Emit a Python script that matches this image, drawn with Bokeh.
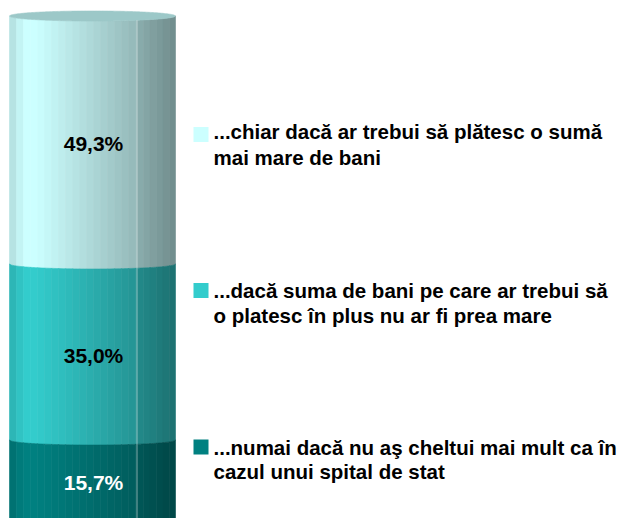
import numpy as np
from bokeh.plotting import figure
from bokeh.models import Range1d
from bokeh.core.properties import value
from bokeh.embed import file_html
from bokeh.resources import INLINE

# ---------------- data ----------------
categories = [
    "...chiar dacă ar trebui să plătesc o sumă mai mare de bani",
    "...dacă suma de bani pe care ar trebui să o platesc în plus nu ar fi prea mare",
    "...numai dacă nu aş cheltui mai mult ca în cazul unui spital de stat",
]
legend_lines = [
    ["...chiar dacă ar trebui să plătesc o sumă", "mai mare de bani"],
    ["...dacă suma de bani pe care ar trebui să", "o platesc în plus nu ar fi prea mare"],
    ["...numai dacă nu aş cheltui mai mult ca în", "cazul unui spital de stat"],
]
values = [49.3, 35.0, 15.7]
value_labels = ["49,3%", "35,0%", "15,7%"]

# ---------------- style ----------------
base_colors = [(204, 255, 255), (51, 204, 204), (0, 128, 128)]
label_colors = ["black", "black", "white"]
FONT = value("Liberation Sans")

S = 5.03          # px per percent
Y0 = 518.5        # page y of value 0
def py(page_y):   # page pixel -> data y
    return (Y0 - page_y) / S

p = figure(width=624, height=518, output_backend="svg", toolbar_location=None,
           x_range=Range1d(0, 624), y_range=Range1d(py(518), py(0)),
           min_border=0, outline_line_color=None, background_fill_color="white")
p.axis.visible = False
p.grid.visible = False

cx, r, h = 92.0, 83.0, 1.0
xl, xr, xsplit = cx - r, cx + r, 136.5

def d(x):
    t = np.clip((np.asarray(x) - cx) / r, -1, 1)
    return h * np.sqrt(1 - t * t)

def shade(x):
    if x < xsplit:
        return float(np.interp(x, [xl, 19, 22, 36, xsplit], [0.86, 0.95, 1.0, 1.0, 0.72]))
    return float(np.interp(x, [xsplit, xr], [0.68, 0.55]))

def hexc(rgb, f):
    return "#%02x%02x%02x" % tuple(int(max(0, min(255, round(c * f)))) for c in rgb)

edges = list(np.arange(xl, xsplit, 7.0)) + [xsplit] + list(np.arange(xsplit + 6.5, xr, 6.5)) + [xr]
edges = sorted(set(round(e, 3) for e in edges))

# stack from bottom: last value at bottom
tops = np.cumsum(values[::-1])[::-1]
bottoms = tops - np.array(values)

xs, ys, cols = [], [], []
for i in range(len(values)):
    a, b = bottoms[i], tops[i]
    for x0, x1 in zip(edges[:-1], edges[1:]):
        sx = np.linspace(x0, x1, 5)
        top_y = b - d(sx)
        bot_y = a - d(sx)
        xs.append(list(sx) + list(sx[::-1]))
        ys.append(list(top_y) + list(bot_y[::-1]))
        cols.append(hexc(base_colors[i], shade((x0 + x1) / 2)))
p.patches(xs, ys, fill_color=cols, line_color=cols, line_width=0.6)

# top cap
cap_x = np.linspace(xl, xr, 120)
top_val = tops[0]
p.patch(list(cap_x) + list(cap_x[::-1]),
        list(top_val + d(cap_x)) + list(top_val - d(cap_x[::-1])),
        fill_color="#9cc8c8", line_color="#9cc8c8", line_width=0.6)

# highlight line
p.segment(x0=[xsplit], y0=[bottoms[-1] - 2], x1=[xsplit], y1=[top_val - d(xsplit)],
          line_color="white", line_alpha=0.5, line_width=1)

# value labels
mids = (tops + bottoms) / 2 - h + 0.4
p.text(x=[cx + 1] * 3, y=list(mids), text=value_labels, text_color=label_colors,
       text_font=FONT, text_font_style="bold", text_font_size="21px",
       text_align="center", text_baseline="middle")

# legend
sq_y = [134, 290, 446.5]
base_lines = [[131, 157], [290, 315], [447, 471]]
legend_colors = [hexc(c, 1.0) for c in base_colors]
p.rect(x=[200.5] * 3, y=[py(v) for v in sq_y], width=15, height=15,
       width_units="screen", height_units="screen",
       fill_color=legend_colors, line_color=None)
tx, ty, tt = [], [], []
for lines, bl in zip(legend_lines, base_lines):
    for line, b in zip(lines, bl):
        tx.append(213)
        ty.append(py(b))
        tt.append(line)
p.text(x=tx, y=ty, text=tt, text_color="black", text_font=FONT,
       text_font_style="bold", text_font_size="20.5px",
       text_align="left", text_baseline="alphabetic")

open("out.html", "w").write(file_html(p, INLINE))
